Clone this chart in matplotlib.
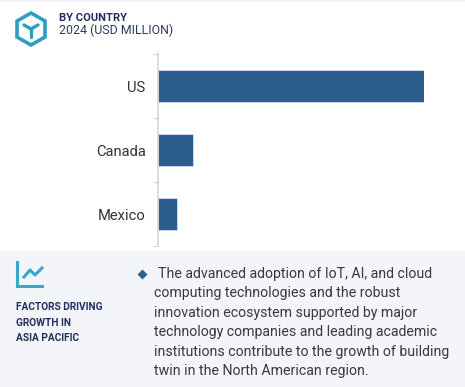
import matplotlib
matplotlib.use("Agg")
import matplotlib.pyplot as plt
from matplotlib.patches import Polygon, Rectangle
from matplotlib.lines import Line2D

W, H = 465, 387
categories = ["US", "Canada", "Mexico"]
values = [266, 35, 19]
title_bold = "BY COUNTRY"
title_sub = "2024 (USD MILLION)"
factor_lines = ["FACTORS DRIVING", "GROWTH IN", "ASIA PACIFIC"]
body_lines = [
    "The advanced adoption of IoT, AI, and cloud",
    "computing technologies and the robust",
    "innovation ecosystem supported by major",
    "technology companies and leading academic",
    "institutions contribute to the growth of building",
    "twin in the North American region.",
]

plt.rcParams['font.family'] = ['Roboto', 'DejaVu Sans']
fig = plt.figure(figsize=(W / 100, H / 100), dpi=100, facecolor='white')

bg = fig.add_axes([0, 0, 1, 1], zorder=0)
bg.set_xlim(0, W); bg.set_ylim(H, 0); bg.axis('off')
bg.add_patch(Rectangle((0, 0), W, 2, color='#f1f3f8', lw=0))
bg.add_patch(Rectangle((0, 251), W, H - 251, color='#f3f5fa', lw=0))

# hexagon icon
teal = '#2f9dbd'
bg.add_patch(Polygon([(31, 13), (45, 21), (45, 37), (31, 45), (17, 37), (17, 21)],
                     closed=True, fill=False, ec=teal, lw=2.6))
for seg in [((31, 29), (31, 37)), ((31, 29), (24, 25)), ((31, 29), (38, 25))]:
    bg.add_line(Line2D(*zip(*seg), color=teal, lw=2.4, solid_capstyle='round'))

navy = '#1f2f5c'
bg.text(59, 18, title_bold, fontsize=8.0, fontweight='bold', color=navy, va='center')
bg.text(59, 30.5, title_sub, fontsize=8.95, color='#2b3a60', va='center')

# line icon
teal2 = '#35aac6'
bg.add_line(Line2D([16.5, 16.5, 42], [262, 286, 286], color=teal2, lw=2.2, solid_joinstyle='miter'))
bg.add_line(Line2D([24, 30, 35, 42], [277, 270, 275, 268], color=teal2, lw=2.2))

for i, s in enumerate(factor_lines):
    bg.text(16, 307.5 + i * 15.3, s, fontsize=7.3, fontweight='bold', color=navy, va='center')

bg.plot([142], [274], marker='D', ms=5.5, color='#2f5f8f', mec='none')
bg.text(158, 274, body_lines[0], fontsize=10.15, color='#3a3a3a', va='center')
for i, s in enumerate(body_lines[1:], start=1):
    bg.text(154, 274 + i * 19.4, s, fontsize=10.15, color='#3a3a3a', va='center')

# bar chart: axes spans pixels x 158..424, y 54..246
ax = fig.add_axes([158 / W, 1 - 246 / H, 266 / W, 192 / H], zorder=1)
ax.patch.set_alpha(0)
ax.barh(categories, values, height=0.5, color='#2b5c8c', edgecolor='#cfdeec', linewidth=0.6)
ax.set_xlim(0, 266)
ax.set_ylim(2.5, -0.5)
ax.set_yticks([-0.5, 0.5, 1.5, 2.5], minor=True)
ax.tick_params(axis='y', which='major', length=0, labelsize=10.6, labelcolor='#333333', pad=9)
ax.tick_params(axis='y', which='minor', length=3.5, width=0.8, color='#d4d4d4')
ax.xaxis.set_visible(False)
for k in ['top', 'right', 'bottom']:
    ax.spines[k].set_visible(False)
ax.spines['left'].set_color('#d4d4d4')
ax.spines['left'].set_linewidth(1.2)

fig.savefig('out.png', dpi=100, facecolor='white')
